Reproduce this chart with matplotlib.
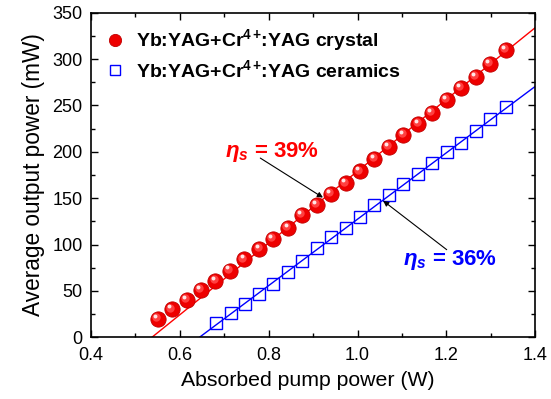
import numpy as np
import matplotlib
matplotlib.use("Agg")
import matplotlib.pyplot as plt
from matplotlib import transforms
from matplotlib.ticker import MultipleLocator

plt.rcParams['font.family'] = ['Liberation Sans', 'DejaVu Sans']
plt.rcParams['mathtext.fontset'] = 'custom'
plt.rcParams['mathtext.rm'] = 'Liberation Sans:bold'
plt.rcParams['mathtext.it'] = 'Liberation Sans:bold:italic'
plt.rcParams['mathtext.bf'] = 'Liberation Sans:bold'

# ---- data ----
crystal_x = [0.550, 0.582, 0.615, 0.648, 0.680, 0.713, 0.745, 0.779, 0.810, 0.844,
             0.875, 0.908, 0.940, 0.973, 1.006, 1.038, 1.071, 1.103, 1.137, 1.168,
             1.201, 1.233, 1.266, 1.297, 1.334]
crystal_y = [20, 30, 40, 51, 61, 72, 84, 95, 106, 118,
             132, 143, 155, 166, 179, 192, 205, 218, 230, 242,
             256, 269, 281, 295, 310]
ceramic_x = [0.681, 0.714, 0.746, 0.779, 0.810, 0.844, 0.875, 0.909, 0.940, 0.973,
             1.006, 1.038, 1.070, 1.103, 1.137, 1.168, 1.201, 1.233, 1.266, 1.297,
             1.334]
ceramic_y = [15, 26, 36, 46.5, 58, 70, 82, 96, 108, 118,
             130, 142.5, 154, 165, 176, 188, 200, 210, 222, 235,
             248]
# linear fits: slope (mW/W) and threshold (W)
crystal_slope, crystal_thr = 387.0, 0.537
ceramic_slope, ceramic_thr = 358.0, 0.644

label_crystal = r'Yb:YAG+Cr$^{4+}\!$:YAG crystal'
label_ceramic = r'Yb:YAG+Cr$^{4+}\!$:YAG ceramics'
xlabel = 'Absorbed pump power (W)'
ylabel = 'Average output power (mW)'
xticks = [0.4, 0.6, 0.8, 1.0, 1.2, 1.4]

fig = plt.figure(figsize=(5.51, 3.99), dpi=100)
ax = fig.add_axes([0.1652, 0.1546, 0.9715 - 0.1652, 0.968 - 0.1546])

xmax = 1.4
xf = np.array([crystal_thr, xmax])
ax.plot(xf, crystal_slope * (xf - crystal_thr), color='red', lw=1.0, zorder=2)
xf2 = np.array([ceramic_thr, xmax])
ax.plot(xf2, ceramic_slope * (xf2 - ceramic_thr), color='blue', lw=1.0, zorder=2)

# spheres
ax.plot(crystal_x, crystal_y, 'o', ms=11, mfc='#ee0000', mec='#c00000', mew=0.6,
        zorder=3, label=label_crystal)
shade = transforms.offset_copy(ax.transData, fig=fig, x=-1.3, y=1.3, units='points')
ax.plot(crystal_x, crystal_y, 'o', ms=6, mfc='#ff4040', mec='none', zorder=4,
        transform=shade)
hl = transforms.offset_copy(ax.transData, fig=fig, x=-2.0, y=2.2, units='points')
ax.plot(crystal_x, crystal_y, 'o', ms=2.8, mfc='#ffe6e6', mec='none', zorder=5,
        transform=hl)

ax.plot(ceramic_x, ceramic_y, 's', ms=9, mfc='none', mec='#0000ff', mew=1.0,
        zorder=3, label=label_ceramic)

ax.set_xlim(0.4, 1.4)
ax.set_ylim(0, 350)
ax.xaxis.set_minor_locator(MultipleLocator(0.1))
ax.yaxis.set_major_locator(MultipleLocator(50))
ax.yaxis.set_minor_locator(MultipleLocator(25))
ax.set_xticks(xticks)
ax.set_xticklabels(['%.1f' % v for v in xticks])
ax.tick_params(which='both', direction='in', top=True, right=True, labelsize=13,
               width=1.0)
ax.tick_params(which='major', length=5)
ax.tick_params(which='minor', length=3)
ax.tick_params(axis='x', pad=7)
ax.tick_params(axis='y', pad=6)
for s in ax.spines.values():
    s.set_linewidth(1.2)

ax.set_xlabel(xlabel, fontsize=15.3, labelpad=5)
ax.set_ylabel(ylabel, fontsize=16.3, labelpad=5)
ax.xaxis.set_label_coords(0.487, -0.105)

leg = ax.legend(loc='upper left', bbox_to_anchor=(0.0, 1.0), frameon=False,
                prop={'weight': 'bold', 'size': 14}, handlelength=1.0,
                handletextpad=0.55, labelspacing=0.3, borderaxespad=0.35,
                markerscale=0.8)

arrow = dict(arrowstyle='-|>', color='black', lw=0.8, mutation_scale=8,
             shrinkA=0, shrinkB=0)
ax.annotate('', xy=(0.922, 150.7), xytext=(0.781, 193.3), arrowprops=arrow)
ax.text(0.807, 199.8, r'$\eta_s$ = 39%', color='red', fontsize=16,
        fontweight='bold', ha='center', va='center')
ax.annotate('', xy=(1.0576, 147.2), xytext=(1.2006, 94.5), arrowprops=arrow)
ax.text(1.207, 83.8, r'$\eta_s$ = 36%', color='blue', fontsize=16,
        fontweight='bold', ha='center', va='center')

fig.savefig('out.png', dpi=100)
